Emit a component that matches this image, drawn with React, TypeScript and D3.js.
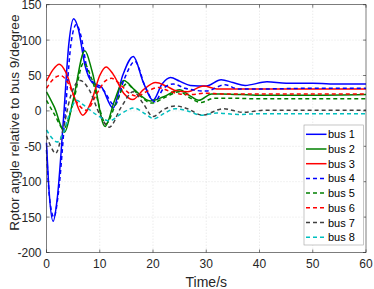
import * as d3 from "d3";

// [time (s), rotor angle (deg)]
const bus1: [number, number][] = [
  [0, -45], [0.5, -115], [1.25, -156], [2, -125], [3.2, -10], [4.2, 95], [5.1, 130], [6, 115],
  [7.2, 65], [8.6, 40], [10.3, 34], [12.5, 4], [14.3, 50], [16.3, 77], [18.2, 40], [20, 15],
  [21.7, 38], [23.3, 47], [25, 42], [27, 36], [30, 35], [32.8, 44], [35, 40], [37.3, 36],
  [41.4, 41], [45, 39], [50, 39], [55, 38], [60, 38],
];
const bus2: [number, number][] = [
  [0, 27], [1.5, 5], [3.4, -30], [5, 15], [7.2, 85], [8.6, 55], [11, -22], [12.8, 15], [14.5, 43],
  [16.5, 30], [19.5, 14], [22, 20], [25, 30], [26.8, 22], [28.6, 15], [31, 24], [33, 24],
  [40, 22], [50, 22], [60, 23],
];
const bus3: [number, number][] = [
  [0, 42], [1.2, 58], [2.4, 66], [3.6, 55], [5.2, 20], [6.8, -6], [8.5, 15], [10, 50], [11.2, 62],
  [12.5, 52], [14.5, 25], [16.2, 16], [18.2, 30], [20.5, 40], [22.5, 35], [24.5, 28], [26.5, 27],
  [29.5, 35], [32, 31], [36, 31], [45, 31], [60, 31],
];
const bus4: [number, number][] = [
  [0, -55], [0.6, -125], [1.4, -150], [2.2, -118], [3.5, -5], [4.6, 95], [5.6, 122], [6.5, 105],
  [7.6, 60], [9, 38], [10.6, 30], [12.8, 8], [14.6, 45], [16.6, 70], [18.5, 35], [20.3, 13],
  [22, 32], [23.8, 38], [26, 32], [30, 28], [33.5, 37], [36, 31], [40, 31], [50, 32], [60, 32],
];
const bus5: [number, number][] = [
  [0, 15], [1.5, -5], [3.2, -25], [5, 12], [7, 68], [8.5, 45], [11.2, -18], [13, 10], [15, 38],
  [17, 25], [19.8, 11], [22, 18], [25, 27], [27, 18], [29, 12], [31.5, 18], [34, 18], [40, 17],
  [50, 17], [60, 17],
];
const bus6: [number, number][] = [
  [0, 32], [1.3, 45], [2.6, 50], [4, 40], [5.5, 15], [7.5, 1], [9.5, 25], [11, 42], [12.2, 46],
  [13.5, 40], [15.5, 25], [17, 21], [19, 28], [21, 33], [23, 28], [25, 24], [27, 23], [30, 25],
  [33, 24], [40, 24], [50, 24], [60, 24],
];
const bus7: [number, number][] = [
  [0, -35], [0.8, -50], [1.7, -60], [3, -30], [4.5, 20], [6.3, 43], [8, 30], [10, -5],
  [11.8, -23], [14, 5], [16.3, 27], [18.2, 10], [20, -8], [22, 2], [24.2, 7], [26.5, 3],
  [29.2, -6], [33.2, 3], [37, -2], [41, 1], [50, 1], [60, 1],
];
const bus8: [number, number][] = [
  [0, -27], [1, -38], [2, -44], [3.3, -28], [4.5, 0], [5.6, 15], [7, 8], [9.5, -6], [11.8, -14],
  [14, -4], [16.5, 4], [18.5, -4], [20.2, -11], [22.2, -3], [24.2, 3], [26.5, 0], [29, -6],
  [32, -3], [36, -5], [40, -4], [50, -4], [60, -4],
];

const seriesNames = ["bus 1", "bus 2", "bus 3", "bus 4", "bus 5", "bus 6", "bus 7", "bus 8"];
const seriesData = [bus1, bus2, bus3, bus4, bus5, bus6, bus7, bus8];
const seriesColors = ["#0000ff", "#008000", "#ff0000", "#0000ff", "#008000", "#ff0000", "#404040", "#00bfbf"];
const seriesDashed = [false, false, false, true, true, true, true, true];

const xTicks = [0, 10, 20, 30, 40, 50, 60];
const yTicks = [-200, -150, -100, -50, 0, 50, 100, 150];

const W = 374;
const H = 289;
const PLOT = { left: 46.5, right: 366, top: 4.7, bottom: 252.5 };
const AXIS = "#262626";
const FONT = "'Liberation Sans', Arial, sans-serif";

export default function App() {
  const x = d3.scaleLinear().domain([0, 60]).range([PLOT.left, PLOT.right]);
  const y = d3.scaleLinear().domain([-200, 150]).range([PLOT.bottom, PLOT.top]);
  const line = d3
    .line<[number, number]>()
    .x((d) => x(d[0]))
    .y((d) => y(d[1]))
    .curve(d3.curveMonotoneX);

  const legX = 304;
  const legY = 125;
  const legW = 59.5;
  const legH = 120;
  const legStep = 14.7;

  return (
    <div style={{ position: "absolute", left: 0, top: 0 }}>
      <svg width={W} height={H} style={{ display: "block", background: "#fff" }}>
        {/* grid */}
        <g stroke="#d0d0d0" strokeWidth={0.6} strokeDasharray="1,2">
          {xTicks.slice(1, -1).map((t) => (
            <line key={"gx" + t} x1={x(t)} x2={x(t)} y1={PLOT.top} y2={PLOT.bottom} />
          ))}
          {yTicks.slice(1, -1).map((t) => (
            <line key={"gy" + t} x1={PLOT.left} x2={PLOT.right} y1={y(t)} y2={y(t)} />
          ))}
        </g>

        {/* curves */}
        <g fill="none" strokeWidth={1.5}>
          {seriesData.map((d, i) => (
            <path
              key={seriesNames[i]}
              d={line(d) ?? ""}
              stroke={seriesColors[i]}
              strokeDasharray={seriesDashed[i] ? "4,3" : undefined}
            />
          ))}
        </g>

        {/* box and ticks */}
        <rect
          x={PLOT.left}
          y={PLOT.top}
          width={PLOT.right - PLOT.left}
          height={PLOT.bottom - PLOT.top}
          fill="none"
          stroke={AXIS}
          strokeWidth={0.6}
        />
        <g stroke={AXIS} strokeWidth={0.6}>
          {xTicks.map((t) => (
            <g key={"tx" + t}>
              <line x1={x(t)} x2={x(t)} y1={PLOT.bottom} y2={PLOT.bottom - 3} />
              <line x1={x(t)} x2={x(t)} y1={PLOT.top} y2={PLOT.top + 3} />
            </g>
          ))}
          {yTicks.map((t) => (
            <g key={"ty" + t}>
              <line x1={PLOT.left} x2={PLOT.left + 3} y1={y(t)} y2={y(t)} />
              <line x1={PLOT.right} x2={PLOT.right - 3} y1={y(t)} y2={y(t)} />
            </g>
          ))}
        </g>

        {/* tick labels */}
        <g fontFamily={FONT} fontSize={12} fill={AXIS}>
          {xTicks.map((t) => (
            <text key={"lx" + t} x={x(t)} y={267.5} textAnchor="middle">
              {t}
            </text>
          ))}
          {yTicks.map((t) => (
            <text key={"ly" + t} x={41.5} y={y(t) + 4.5} textAnchor="end">
              {t}
            </text>
          ))}
        </g>

        {/* axis titles */}
        <text x={206.3} y={286.5} textAnchor="middle" fontFamily={FONT} fontSize={14} fill={AXIS}>
          Time/s
        </text>
        <text
          transform={`translate(18.5,${(PLOT.top + PLOT.bottom) / 2 - 6}) rotate(-90)`}
          textAnchor="middle"
          fontFamily={FONT}
          fontSize={13.6}
          fill={AXIS}
        >
          Rotor angle relative to bus 9/degree
        </text>

        {/* legend */}
        <rect x={legX} y={legY} width={legW} height={legH} fill="#fff" stroke="#a0a0a0" strokeWidth={0.6} />
        {seriesNames.map((name, i) => {
          const ly = legY + 9.3 + i * legStep;
          return (
            <g key={"leg" + name}>
              <line
                x1={legX + 2}
                x2={legX + 22.5}
                y1={ly}
                y2={ly}
                stroke={seriesColors[i]}
                strokeWidth={1.5}
                strokeDasharray={seriesDashed[i] ? "4,3" : undefined}
              />
              <text x={legX + 24} y={ly + 4} fontFamily={FONT} fontSize={11} fill="#000">
                {name}
              </text>
            </g>
          );
        })}
      </svg>
    </div>
  );
}
